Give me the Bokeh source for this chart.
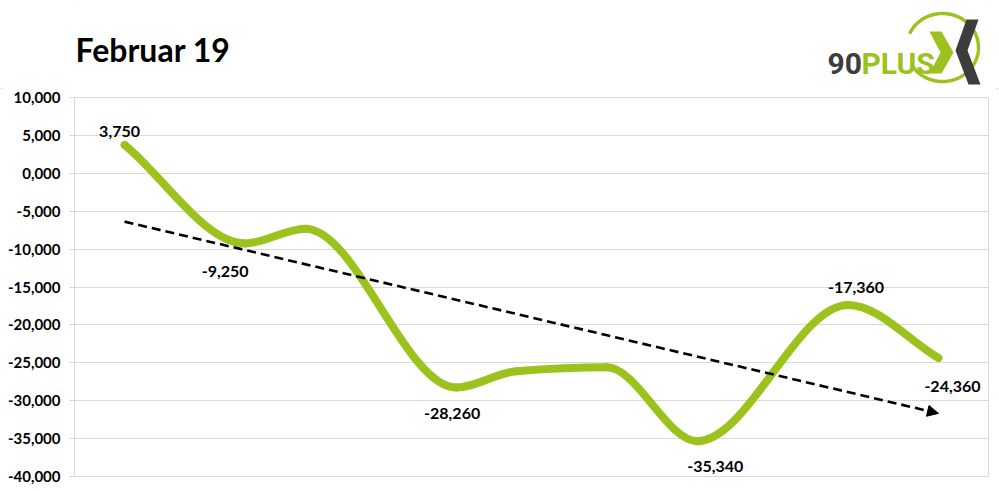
import numpy as np
from bokeh.plotting import figure
from bokeh.layouts import column
from bokeh.models import Range1d, FixedTicker, ColumnDataSource, Arrow, NormalHead
from bokeh.core.properties import value
from bokeh.embed import file_html
from bokeh.resources import INLINE

# ---------------- data ----------------
title_text = "Februar 19"
days = [1, 5, 7, 12, 14, 17, 20, 25, 28]
values = [3.75, -9.25, -7.3, -28.26, -26.1, -25.6, -35.34, -17.36, -24.36]
labeled_days = [1, 5, 12, 20, 25, 28]
y_ticks = [10, 5, 0, -5, -10, -15, -20, -25, -30, -35, -40]
y_tick_labels = ["10,000", "5,000", "0,000", "-5,000", "-10,000", "-15,000",
                 "-20,000", "-25,000", "-30,000", "-35,000", "-40,000"]

# ---------------- styles ----------------
GREEN = "#9CC31D"
DARK = "#3d3d3d"
GRID = "#d9d9d9"
FONT = "Lato"
label_offsets = {1: (-5, -13), 5: (-20, 28), 12: (-4, 26), 20: (18, 25), 25: (8, -17), 28: (14, 29)}

W = 999
BL, BR = 74, 11          # frame borders shared by both figures
HDR_H = 88

# ---------------- header (title + logo) ----------------
hdr = figure(width=W, height=HDR_H, x_range=Range1d(BL, W - BR), y_range=Range1d(HDR_H, 0),
             toolbar_location=None, output_backend="svg",
             x_axis_location=None, y_axis_location=None,
             min_border_left=BL, min_border_right=BR, min_border_top=0, min_border_bottom=0)
hdr.grid.visible = False
hdr.outline_line_color = None
hdr.text(x=[75], y=[49], text=[title_text], text_font=value(FONT), text_font_style="bold",
         text_font_size="32px", text_color="black", text_baseline="alphabetic")

# logo ring
t = np.deg2rad(np.linspace(204, 508, 200))
hdr.line(942 + 36 * np.cos(t), 47 + 34 * np.sin(t), line_color=GREEN, line_width=3.5)
# logo text
hdr.text(x=[827], y=[63], text=["90"], text_font=value("Roboto"), text_font_style="bold",
         text_font_size="30px", text_color=DARK, text_baseline="alphabetic")
hdr.text(x=[861], y=[63], text=["PLUS"], text_font=value("Roboto"), text_font_style="bold",
         text_font_size="30px", text_color=GREEN, text_baseline="alphabetic")
# green chevron
hdr.patch([929, 941, 953, 941, 929, 940], [31, 31, 52, 73, 73, 52], fill_color=GREEN, line_color=None)
# dark shape
hdr.patch([966, 978, 967, 980, 968, 955], [19, 19, 50, 84, 84, 50], fill_color=DARK, line_color=None)

# ---------------- main chart ----------------
p = figure(width=W, height=491 - HDR_H, x_range=Range1d(-0.66, 29.66), y_range=Range1d(-40, 10),
           toolbar_location=None, output_backend="svg", x_axis_location=None,
           min_border_left=BL, min_border_right=BR, min_border_top=9, min_border_bottom=15)
p.outline_line_color = GRID
p.xgrid.visible = False
p.ygrid.grid_line_color = GRID
p.ygrid.grid_line_width = 1

ax = p.yaxis[0]
ax.ticker = FixedTicker(ticks=y_ticks)
ax.major_label_overrides = {tk: lb for tk, lb in zip(y_ticks, y_tick_labels)}
ax.axis_line_color = GRID
ax.major_tick_line_color = GRID
ax.major_tick_out = 5
ax.major_tick_in = 0
ax.minor_tick_line_color = None
ax.major_label_standoff = 9
ax.major_label_text_font = FONT
ax.major_label_text_font_style = "bold"
ax.major_label_text_font_size = "15px"
ax.major_label_text_color = "black"

# smoothed line: monotone cubic Hermite through the data points, drawn as Bezier segments
x = np.array(days, dtype=float)
y = np.array(values, dtype=float)
h = np.diff(x)
d = np.diff(y) / h
m = np.zeros_like(y)
m[0], m[-1] = d[0], d[-1]
for k in range(1, len(x) - 1):
    if d[k - 1] * d[k] > 0:
        w1 = 2 * h[k] + h[k - 1]
        w2 = h[k] + 2 * h[k - 1]
        m[k] = (w1 + w2) / (w1 / d[k - 1] + w2 / d[k])
x0, y0, x1, y1 = x[:-1], y[:-1], x[1:], y[1:]
cx0 = x0 + h / 3
cy0 = y0 + m[:-1] * h / 3
cx1 = x1 - h / 3
cy1 = y1 - m[1:] * h / 3
p.bezier(x0=x0, y0=y0, x1=x1, y1=y1, cx0=cx0, cy0=cy0, cx1=cx1, cy1=cy1,
         line_color=GREEN, line_width=8, line_cap="round")

# linear trend line
slope, icpt = np.polyfit(x, y, 1)
p.add_layout(Arrow(end=NormalHead(size=11, fill_color="black", line_color="black", line_width=1),
                   x_start=days[0], y_start=slope * days[0] + icpt,
                   x_end=days[-1], y_end=slope * days[-1] + icpt,
                   line_color="black", line_width=2.6, line_dash="9 5"))

# data labels
lx, ly, lt, ox, oy = [], [], [], [], []
for dd, v in zip(days, values):
    if dd in labeled_days:
        lx.append(dd); ly.append(v)
        lt.append(f"{v:.3f}".replace(".", ","))
        ox.append(label_offsets[dd][0]); oy.append(label_offsets[dd][1])
src = ColumnDataSource(dict(x=lx, y=ly, t=lt, ox=ox, oy=oy))
p.text(x="x", y="y", text="t", x_offset="ox", y_offset="oy", source=src,
       text_font=value(FONT), text_font_style="bold", text_font_size="16px",
       text_color="black", text_align="center", text_baseline="middle")

layout = column(hdr, p, styles={"outline": "2px solid #cccccc", "outline-offset": "-3px"})
open("out.html", "w").write(file_html(layout, INLINE))
